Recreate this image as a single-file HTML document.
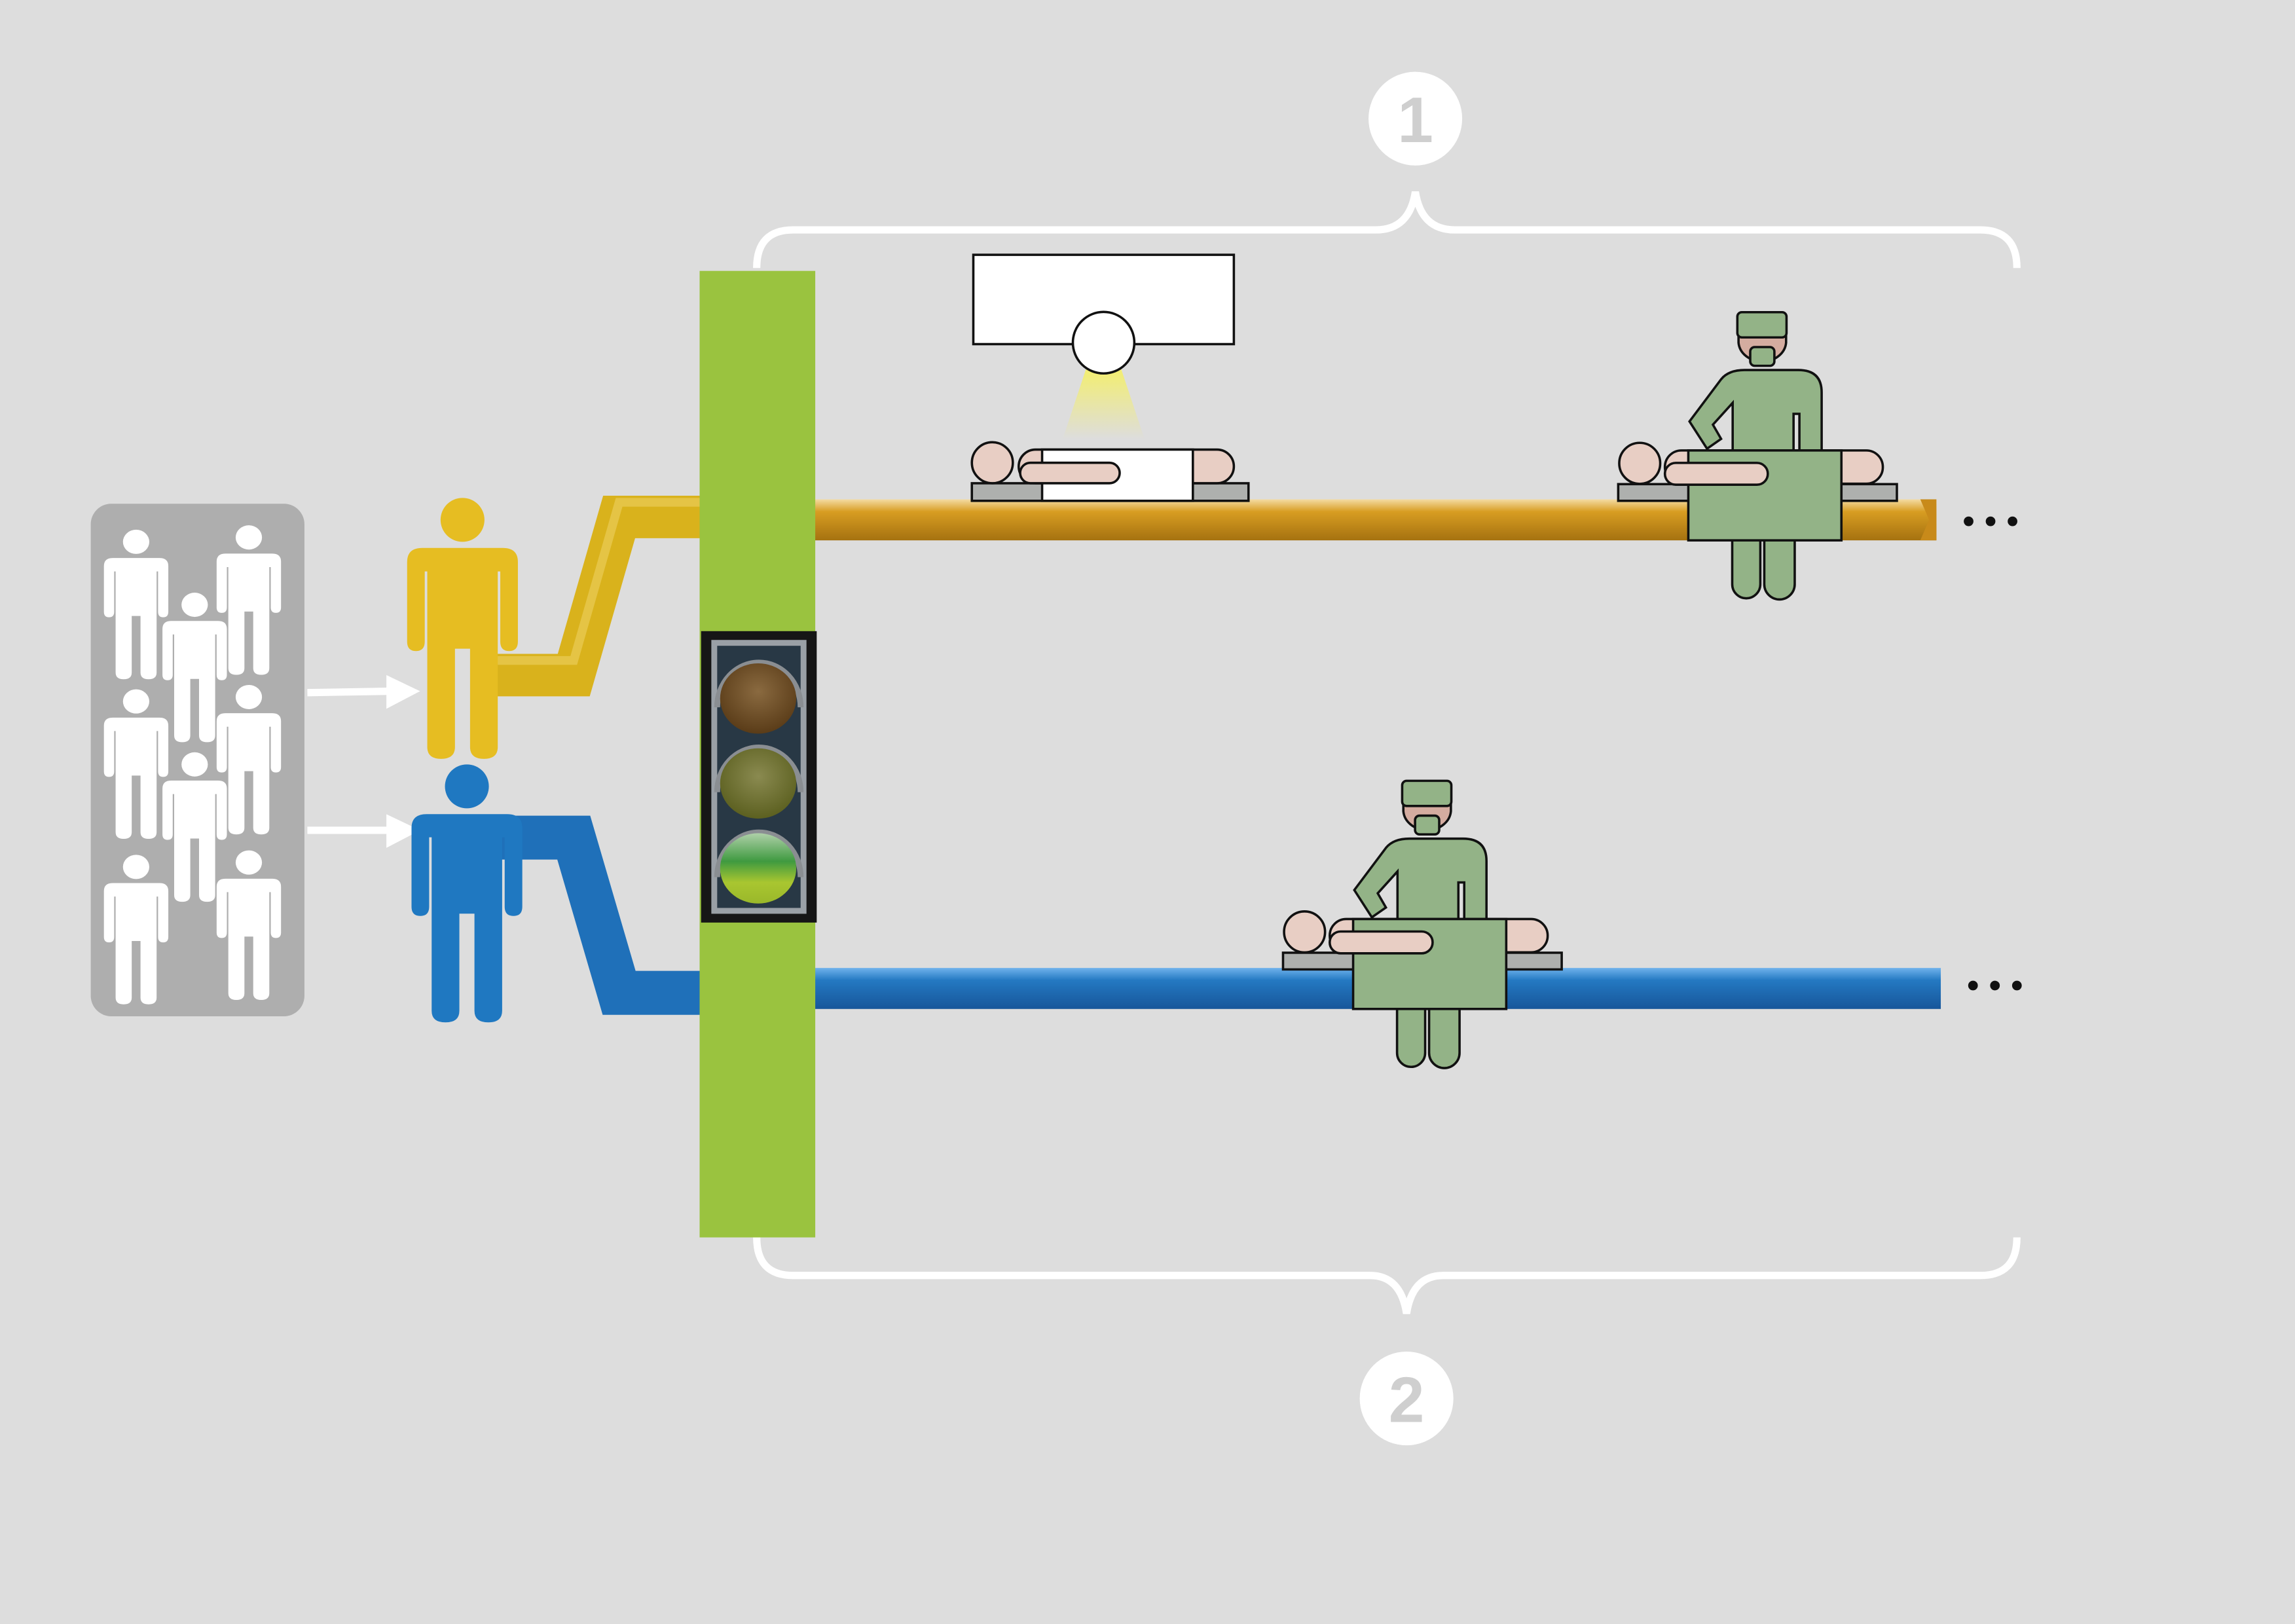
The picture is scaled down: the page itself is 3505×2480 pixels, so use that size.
<!DOCTYPE html>
<html><head><meta charset="utf-8"><style>html,body{margin:0;padding:0;background:#dddddd}svg{display:block}</style></head>
<body>
<svg width="3505" height="2480" viewBox="0 0 1568 1109" preserveAspectRatio="none" xmlns="http://www.w3.org/2000/svg">
<defs>
<linearGradient id="og" x1="0" y1="0" x2="0" y2="1"><stop offset="0" stop-color="#f4dba2"/><stop offset="0.3" stop-color="#d89d22"/><stop offset="1" stop-color="#a57210"/></linearGradient>
<linearGradient id="bg" x1="0" y1="0" x2="0" y2="1"><stop offset="0" stop-color="#6fb2ec"/><stop offset="0.3" stop-color="#2479c2"/><stop offset="1" stop-color="#17569a"/></linearGradient>
<linearGradient id="cone" x1="0" y1="0" x2="0" y2="1"><stop offset="0" stop-color="#f3ee70"/><stop offset="1" stop-color="#f3ee70" stop-opacity="0"/></linearGradient>
<radialGradient id="lr" cx="0.5" cy="0.4" r="0.6"><stop offset="0" stop-color="#8a6a40"/><stop offset="1" stop-color="#5a3c18"/></radialGradient>
<radialGradient id="ly" cx="0.5" cy="0.4" r="0.6"><stop offset="0" stop-color="#8a8a50"/><stop offset="1" stop-color="#5c6020"/></radialGradient>
<linearGradient id="lg" x1="0" y1="0" x2="0" y2="1"><stop offset="0" stop-color="#aed0a8"/><stop offset="0.4" stop-color="#3f9a40"/><stop offset="0.7" stop-color="#a9c630"/><stop offset="1" stop-color="#9ab82a"/></linearGradient>
<path id="pp" d="M-16,12 H16 Q22,12 22,18 V52 Q22,56 18.5,56 Q15,56 15,52 V22 H14 V97 Q14,102 8.5,102 Q3,102 3,97 V55 H-3 V97 Q-3,102 -8.5,102 Q-14,102 -14,97 V22 H-15 V52 Q-15,56 -18.5,56 Q-22,56 -22,52 V18 Q-22,12 -16,12 Z"/>
<g id="surg" stroke="#111" stroke-width="1.6">
<path d="M1183.5,360 V399 A9.6,9.6 0 0 0 1202.7,399 V360 Z M1205.4,360 V399 A10.4,10.4 0 0 0 1226.2,399 V360 Z" fill="#93b387"/>
<rect x="1105.6" y="330.6" width="190.4" height="11.4" fill="#aeb0ae"/>
<path d="M1192,252.7 H1228.6 Q1244.6,252.7 1244.6,268 V310 H1183.8 V275.1 L1170.3,290 L1175.9,299.7 L1166.3,306.4 L1154.3,287.8 L1175.9,259 Q1181,252.7 1192,252.7 Z" fill="#93b387"/>
<rect x="1225.4" y="282.6" width="4" height="26" fill="#dddddd"/>
<path d="M1187.8,228 V234 A16.3,14 0 0 0 1220.3,234 V228 Z" fill="#d4aca0"/>
<rect x="1187" y="213.2" width="33.6" height="17.2" rx="3" fill="#93b387"/>
<rect x="1195.8" y="237" width="16.5" height="12.8" rx="3" fill="#93b387"/>
<circle cx="1120.3" cy="316.4" r="14" fill="#e8cec4"/>
<rect x="1137.5" y="307.6" width="148.9" height="22.7" rx="11.3" fill="#e8cec4"/>
<rect x="1153.5" y="307.6" width="104.6" height="61.4" fill="#93b387"/>
<rect x="1137.5" y="316.1" width="70.3" height="14.9" rx="7.4" fill="#e8cec4"/>
</g>
</defs>
<rect width="1568" height="1109" fill="#dddddd"/>
<path d="M517,183 Q517,157 542,157 L940,157 Q963,157 967,131 Q971,157 994,157 L1353,157 Q1378,157 1378,183" fill="none" stroke="#fff" stroke-width="5"/>
<path d="M517,845 Q517,871 542,871 L936,871 Q957,871 961,897 Q965,871 986,871 L1353,871 Q1378,871 1378,845" fill="none" stroke="#fff" stroke-width="5"/>
<circle cx="967" cy="81" r="32" fill="#fff"/>
<text x="967" y="97" font-family="Liberation Sans, sans-serif" font-size="44" font-weight="bold" fill="#cfcfcf" text-anchor="middle">1</text>
<circle cx="961" cy="955" r="32" fill="#fff"/>
<text x="961" y="971" font-family="Liberation Sans, sans-serif" font-size="44" font-weight="bold" fill="#cfcfcf" text-anchor="middle">2</text>
<rect x="62" y="344" width="146" height="350" rx="14" fill="#aeaeae"/>
<g fill="#fff">
<g transform="translate(93,370) scale(1,0.92)"><circle r="9"/><use href="#pp"/></g>
<g transform="translate(170,367) scale(1,0.92)"><circle r="9"/><use href="#pp"/></g>
<g transform="translate(133,413) scale(1,0.92)"><circle r="9"/><use href="#pp"/></g>
<g transform="translate(93,479) scale(1,0.92)"><circle r="9"/><use href="#pp"/></g>
<g transform="translate(170,476) scale(1,0.92)"><circle r="9"/><use href="#pp"/></g>
<g transform="translate(133,522) scale(1,0.92)"><circle r="9"/><use href="#pp"/></g>
<g transform="translate(93,592) scale(1,0.92)"><circle r="9"/><use href="#pp"/></g>
<g transform="translate(170,589) scale(1,0.92)"><circle r="9"/><use href="#pp"/></g>
</g>
<path d="M210,473 L268,472" stroke="#fff" stroke-width="5"/>
<path d="M264,461 L287,472 L264,484 Z" fill="#fff"/>
<path d="M210,567 L268,567" stroke="#fff" stroke-width="5"/>
<path d="M264,556 L287,567 L264,579 Z" fill="#fff"/>
<polyline points="330,461 392,461 423,353 480,353" fill="none" stroke="#d9b21c" stroke-width="29"/>
<polyline points="330,461 392,461 423,353 480,353" fill="none" stroke="#ecd060" stroke-width="6" transform="translate(0,-10)" opacity="0.6"/>
<polyline points="340,572 392,572 423,678 480,678" fill="none" stroke="#1f70b9" stroke-width="30"/>
<rect x="556" y="341" width="767" height="28" fill="url(#og)"/>
<path d="M1312,341 L1323,341 L1323,369 L1312,369 L1318,355 Z" fill="#c88a1a"/>
<rect x="556" y="661" width="770" height="28" fill="url(#bg)"/>
<rect x="478" y="185" width="79" height="660" fill="#9ac33f"/>
<g fill="#e6bd22"><circle cx="316" cy="355" r="15"/><use href="#pp" transform="translate(316,355) scale(1.72,1.6)"/></g>
<g fill="#1f78c1"><circle cx="319" cy="537" r="15"/><use href="#pp" transform="translate(319,537) scale(1.72,1.58)"/></g>
<rect x="479" y="431" width="79" height="199" fill="#161616"/>
<rect x="486" y="437" width="65" height="187" fill="#9aa0a6"/>
<rect x="490" y="441" width="57" height="179" fill="#283845"/>
<g fill="none" stroke="#8a8e92" stroke-width="4">
<path d="M490,483 A28,30 0 0 1 547,483"/><path d="M490,541 A28,30 0 0 1 547,541"/><path d="M490,599 A28,30 0 0 1 547,599"/>
</g>
<ellipse cx="518" cy="477" rx="26" ry="24" fill="url(#lr)"/>
<ellipse cx="518" cy="535" rx="26" ry="24" fill="url(#ly)"/>
<ellipse cx="518" cy="593" rx="26" ry="24" fill="url(#lg)"/>
<polygon points="742,252 766,252 782,300 726,300" fill="url(#cone)"/>
<rect x="665" y="174" width="178" height="61" fill="#fff" stroke="#111" stroke-width="1.6"/>
<circle cx="754" cy="234" r="21" fill="#fff" stroke="#111" stroke-width="1.6"/>
<g stroke="#111" stroke-width="1.6">
<rect x="664" y="330" width="189" height="12" fill="#aeb0ae"/>
<circle cx="678" cy="316" r="14" fill="#e8cec4"/>
<rect x="696" y="307" width="147" height="23" rx="11.5" fill="#e8cec4"/>
<rect x="712" y="307" width="103" height="35" fill="#fff"/>
<rect x="697" y="316" width="68" height="14" rx="7" fill="#e8cec4"/>
</g>
<use href="#surg"/>
<use href="#surg" transform="translate(-229,320)"/>
<g fill="#111"><circle cx="1345" cy="356" r="3.3"/><circle cx="1360" cy="356" r="3.3"/><circle cx="1375" cy="356" r="3.3"/>
<circle cx="1348" cy="673" r="3.3"/><circle cx="1363" cy="673" r="3.3"/><circle cx="1378" cy="673" r="3.3"/></g>
</svg>
</body></html>
